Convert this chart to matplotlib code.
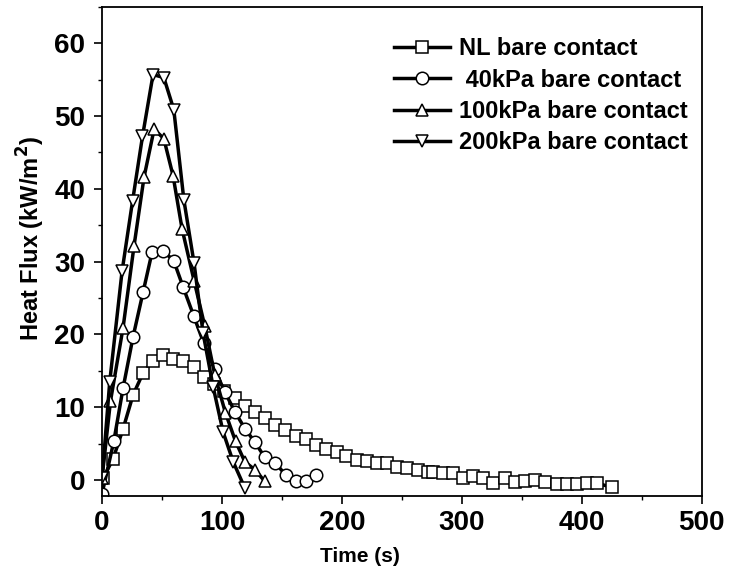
import numpy as np
import matplotlib
matplotlib.use("Agg")
import matplotlib.pyplot as plt
from matplotlib.ticker import MultipleLocator

plt.rcParams["font.family"] = ["Liberation Sans", "DejaVu Sans"]
plt.rcParams["font.weight"] = "bold"

# ── data (time in s, heat flux in kW/m²) ─────────────────────────────────────
t_nl = [0.8, 9.2, 17.5, 25.9, 34.2, 42.5, 50.9, 59.2, 67.6, 76.5, 84.8, 93.2, 101.5,
        110.7, 119.0, 127.4, 135.7, 144.0, 152.4, 161.3, 169.9, 178.2, 187.1, 195.5,
        203.8, 212.2, 220.5, 228.9, 237.2, 246.0, 254.4, 263.6, 271.9, 276.0, 284.4,
        292.7, 301.0, 309.4, 317.8, 326.0, 335.9, 344.2, 352.6, 360.9, 369.3, 379.0,
        387.4, 395.7, 404.0, 412.4, 424.8]
q_nl = [0.2, 2.9, 7.0, 11.7, 14.7, 16.4, 17.1, 16.6, 16.3, 15.5, 14.1, 13.2, 12.2,
        11.3, 10.1, 9.3, 8.5, 7.6, 6.9, 6.05, 5.6, 4.8, 4.2, 3.8,
        3.3, 2.75, 2.65, 2.3, 2.3, 1.75, 1.6, 1.4, 1.15, 1.06, 0.92,
        0.92, 0.23, 0.55, 0.23, -0.37, 0.23, -0.23, -0.09, 0.05, -0.23, -0.5,
        -0.5, -0.5, -0.45, -0.45, -1.0]

t_40 = [0.0, 9.8, 17.5, 25.9, 34.2, 41.7, 50.9, 59.8, 67.6, 76.5, 84.8, 94.0, 102.3,
        111.0, 119.3, 127.4, 135.7, 144.6, 153.0, 161.3, 169.9, 178.2]
q_40 = [-1.9, 5.3, 12.6, 19.7, 25.8, 31.3, 31.5, 30.1, 26.5, 22.5, 18.8, 15.2, 12.1,
        9.3, 7.0, 5.2, 3.1, 2.3, 0.7, -0.2, -0.2, 0.7]

t_100 = [0.0, 7.0, 17.5, 26.7, 35.0, 43.4, 51.5, 59.2, 66.7, 76.7, 85.7, 94.0, 102.9,
         111.3, 119.0, 127.4, 135.7]
q_100 = [0.3, 10.8, 20.9, 32.2, 41.6, 48.2, 46.9, 41.8, 34.5, 27.4, 21.1, 14.4, 9.2,
         5.3, 2.5, 1.4, -0.2]

t_200 = [0.0, 6.4, 16.7, 25.4, 33.7, 42.5, 51.5, 59.8, 68.2, 76.7, 84.2, 92.6, 100.9,
         109.3, 119.0]
q_200 = [0.2, 13.5, 28.7, 38.3, 47.2, 55.7, 55.3, 50.9, 38.5, 29.8, 20.2, 12.8, 6.6,
         2.5, -1.1]

series = [
    (t_nl, q_nl, "s", "NL bare contact"),
    (t_40, q_40, "o", " 40kPa bare contact"),
    (t_100, q_100, "^", "100kPa bare contact"),
    (t_200, q_200, "v", "200kPa bare contact"),
]

fig = plt.figure(figsize=(7.29, 5.80), dpi=100)
ax = fig.add_axes([0.140, 0.145, 0.8226, 0.843])

for t, q, mk, lab in series:
    ax.plot(t, q, "-", color="black", lw=2.5, marker=mk, ms=9,
            mfc="white", mec="black", mew=1.1, label=lab)

ax.set_xlim(0, 500)
ax.set_ylim(-2.2, 65)
ax.xaxis.set_major_locator(MultipleLocator(100))
ax.xaxis.set_minor_locator(MultipleLocator(50))
ax.yaxis.set_major_locator(MultipleLocator(10))
ax.yaxis.set_minor_locator(MultipleLocator(5))
ax.tick_params(which="major", direction="out", length=6, width=1.2, labelsize=20, pad=4)
ax.tick_params(axis="y", which="major", pad=6)
ax.tick_params(which="minor", direction="out", length=3, width=1.0)
for lbl in ax.get_xticklabels() + ax.get_yticklabels():
    lbl.set_fontweight("bold")
for s in ax.spines.values():
    s.set_linewidth(1.3)

ax.set_xlabel("Time (s)", fontsize=15, fontweight="bold")
ax.set_ylabel("Heat Flux (kW/m$^\\mathbf{2}$)", fontsize=17, fontweight="bold")
ax.xaxis.set_label_coords(0.43, -0.105)
ax.yaxis.set_label_coords(-0.092, 0.526)

leg = ax.legend(loc="upper right", bbox_to_anchor=(1.0, 0.967), frameon=False,
                prop={"weight": "bold", "size": 17}, handlelength=2.4,
                handletextpad=0.35, labelspacing=0.35, markerscale=1.0,
                borderaxespad=0.2)

fig.savefig("out.png", dpi=100)
